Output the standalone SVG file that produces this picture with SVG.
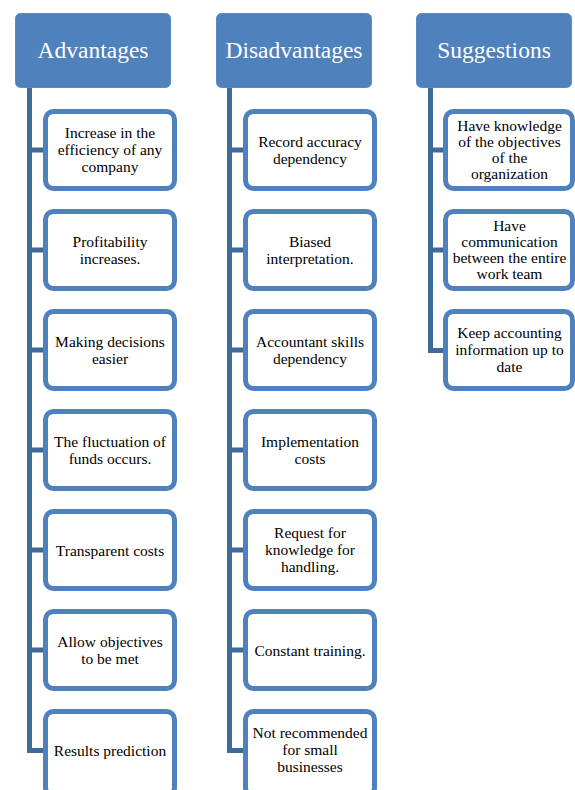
<svg xmlns="http://www.w3.org/2000/svg" width="575" height="790" viewBox="0 0 575 790">
<style>
.hdr{fill:#4F81BD;stroke:#5A8BC6;stroke-width:1}
.ht{font-family:'Liberation Serif',serif;font-size:23.5px;fill:#fff;text-anchor:middle}
.box{fill:#fff;stroke:#4F81BD;stroke-width:5}
.bt{font-family:'Liberation Serif',serif;font-size:15.5px;fill:#000;text-anchor:middle}
.con{fill:none;stroke:#3E6A9C;stroke-width:5}
</style>
<rect width="575" height="790" fill="#fff"/>
<g id="connectors">
<path class="con" d="M29.5 88V750.5H45M27 150H45M27 250H45M27 350H45M27 450H45M27 550H45M27 650H45"/>
<path class="con" d="M229.5 88V750.5H245M227 150H245M227 250H245M227 350H245M227 450H245M227 550H245M227 650H245"/>
<path class="con" d="M430.5 88V350.5H445M428 150H445M428 250H445"/>
</g>
<g id="h-advantages"><rect class="hdr" x="15.5" y="13.5" width="155" height="74" rx="5"/><text class="ht" x="93" y="57.5">Advantages</text></g>
<g id="h-disadvantages"><rect class="hdr" x="216.5" y="13.5" width="155" height="74" rx="5"/><text class="ht" x="294" y="57.5">Disadvantages</text></g>
<g id="h-suggestions"><rect class="hdr" x="416.5" y="13.5" width="155" height="74" rx="5"/><text class="ht" x="494" y="57.5">Suggestions</text></g>

<g id="a1"><rect class="box" x="45.5" y="111.5" width="129" height="77" rx="8"/><text class="bt" x="110" y="138">Increase in the<tspan x="110" dy="17">efficiency of any</tspan><tspan x="110" dy="17">company</tspan></text></g>
<g id="a2"><rect class="box" x="45.5" y="211.5" width="129" height="77" rx="8"/><text class="bt" x="110" y="246.5">Profitability<tspan x="110" dy="17">increases.</tspan></text></g>
<g id="a3"><rect class="box" x="45.5" y="311.5" width="129" height="77" rx="8"/><text class="bt" x="110" y="346.5">Making decisions<tspan x="110" dy="17">easier</tspan></text></g>
<g id="a4"><rect class="box" x="45.5" y="411.5" width="129" height="77" rx="8"/><text class="bt" x="110" y="446.5">The fluctuation of<tspan x="110" dy="17">funds occurs.</tspan></text></g>
<g id="a5"><rect class="box" x="45.5" y="511.5" width="129" height="77" rx="8"/><text class="bt" x="110" y="556">Transparent costs</text></g>
<g id="a6"><rect class="box" x="45.5" y="611.5" width="129" height="77" rx="8"/><text class="bt" x="110" y="646.5">Allow objectives<tspan x="110" dy="17">to be met</tspan></text></g>
<g id="a7"><rect class="box" x="45.5" y="711.5" width="129" height="84" rx="8"/><text class="bt" x="110" y="756">Results prediction</text></g>

<g id="d1"><rect class="box" x="245.5" y="111.5" width="129" height="77" rx="8"/><text class="bt" x="310" y="146.5">Record accuracy<tspan x="310" dy="17">dependency</tspan></text></g>
<g id="d2"><rect class="box" x="245.5" y="211.5" width="129" height="77" rx="8"/><text class="bt" x="310" y="246.5">Biased<tspan x="310" dy="17">interpretation.</tspan></text></g>
<g id="d3"><rect class="box" x="245.5" y="311.5" width="129" height="77" rx="8"/><text class="bt" x="310" y="346.5">Accountant skills<tspan x="310" dy="17">dependency</tspan></text></g>
<g id="d4"><rect class="box" x="245.5" y="411.5" width="129" height="77" rx="8"/><text class="bt" x="310" y="446.5">Implementation<tspan x="310" dy="17">costs</tspan></text></g>
<g id="d5"><rect class="box" x="245.5" y="511.5" width="129" height="77" rx="8"/><text class="bt" x="310" y="538">Request for<tspan x="310" dy="17">knowledge for</tspan><tspan x="310" dy="17">handling.</tspan></text></g>
<g id="d6"><rect class="box" x="245.5" y="611.5" width="129" height="77" rx="8"/><text class="bt" x="310" y="656">Constant training.</text></g>
<g id="d7"><rect class="box" x="245.5" y="711.5" width="129" height="84" rx="8"/><text class="bt" x="310" y="738">Not recommended<tspan x="310" dy="17">for small</tspan><tspan x="310" dy="17">businesses</tspan></text></g>

<g id="s1"><rect class="box" x="445.5" y="111.5" width="127" height="77" rx="8"/><text class="bt" x="509.5" y="130.5">Have knowledge<tspan x="509.5" dy="16.3">of the objectives</tspan><tspan x="509.5" dy="16.3">of the</tspan><tspan x="509.5" dy="16.3">organization</tspan></text></g>
<g id="s2"><rect class="box" x="445.5" y="211.5" width="127" height="77" rx="8"/><text class="bt" x="509.5" y="230.5">Have<tspan x="509.5" dy="16.3">communication</tspan><tspan x="509.5" dy="16.3">between the entire</tspan><tspan x="509.5" dy="16.3">work team</tspan></text></g>
<g id="s3"><rect class="box" x="445.5" y="311.5" width="127" height="77" rx="8"/><text class="bt" x="509.5" y="338">Keep accounting<tspan x="509.5" dy="17">information up to</tspan><tspan x="509.5" dy="17">date</tspan></text></g>
</svg>
